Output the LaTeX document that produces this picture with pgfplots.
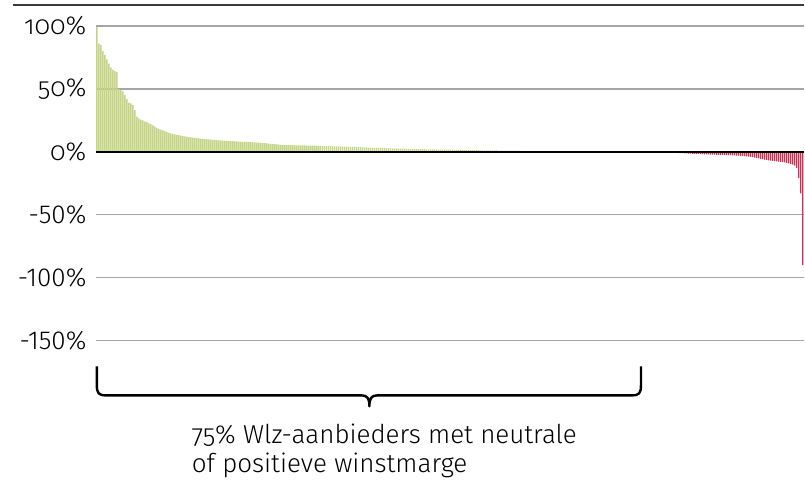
\documentclass[border=0pt]{standalone}
\usepackage{pgfplots}
\usepackage{pgfplotstable}
\usepackage{fontspec}
\pgfplotsset{compat=1.18}
\setmainfont{Fira Sans}[UprightFont=* Light, Numbers=OldStyle]
\newfontfamily\lin{Fira Sans}[UprightFont=* Light, Numbers=Lining]
\definecolor{posbar}{HTML}{C4D484}
\definecolor{negbar}{HTML}{D62E50}
\definecolor{gridgray}{HTML}{A6A6A6}
\definecolor{topline}{HTML}{3A3A3A}

% winstmarge per aanbieder (%), gesorteerd
\pgfplotstableread[row sep=\\]{
y\\
99\\ 86\\ 85\\ 80\\ 77\\ 73.5\\ 70\\ 67\\ 65\\ 64\\
63.5\\ 50\\ 49\\ 48\\ 45\\ 42\\ 39\\ 38.5\\ 37\\ 33\\
28\\ 26.5\\ 25.5\\ 25\\ 24\\ 23.5\\ 22.5\\ 22\\ 21\\ 20\\
19\\ 18\\ 17.5\\ 17\\ 16.3\\ 15.6\\ 15\\ 14.6\\ 14.2\\ 13.8\\
13.5\\ 13.2\\ 12.8\\ 12.5\\ 12.2\\ 12.0\\ 11.7\\ 11.5\\ 11.3\\ 11.1\\
10.9\\ 10.7\\ 10.5\\ 10.3\\
10.1\\ 9.9\\ 9.8\\ 9.6\\ 9.5\\ 9.4\\ 9.2\\
9.1\\ 9.0\\ 8.9\\ 8.8\\ 8.7\\ 8.6\\ 8.5\\ 8.4\\ 8.3\\ 8.2\\
8.1\\ 8.0\\ 7.9\\ 7.8\\ 7.8\\ 7.7\\ 7.6\\ 7.5\\ 7.4\\ 7.3\\ 7.2\\ 7.1\\
6.9\\ 6.8\\ 6.6\\ 6.5\\ 6.3\\ 6.2\\ 6.0\\ 5.9\\ 5.7\\ 5.5\\ 5.3\\
5.3\\ 5.3\\ 5.2\\ 5.2\\ 5.2\\ 5.1\\ 5.1\\ 5.1\\ 5.0\\ 5.0\\ 5.0\\ 4.9\\ 4.9\\ 4.9\\ 4.8\\ 4.8\\ 4.8\\
4.7\\ 4.7\\ 4.6\\ 4.6\\ 4.5\\ 4.5\\ 4.4\\ 4.4\\ 4.3\\ 4.3\\ 4.2\\ 4.2\\ 4.1\\ 4.1\\ 4.0\\
4.0\\ 3.9\\ 3.9\\ 3.8\\ 3.7\\ 3.7\\ 3.6\\ 3.5\\ 3.5\\ 3.4\\ 3.3\\ 3.3\\ 3.2\\ 3.1\\ 3.1\\ 3.0\\ 3.0\\ 2.9\\
2.9\\ 2.8\\ 2.8\\ 2.7\\ 2.7\\ 2.6\\ 2.6\\ 2.5\\ 2.5\\ 2.4\\ 2.4\\ 2.3\\ 2.3\\ 2.2\\ 2.2\\ 2.1\\ 2.1\\
2.1\\ 2.0\\ 2.0\\ 2.0\\ 1.9\\ 1.9\\ 1.9\\ 1.8\\ 1.8\\ 1.8\\ 1.7\\ 1.7\\ 1.7\\ 1.7\\ 1.6\\ 1.6\\ 1.6\\
1.6\\ 1.5\\ 1.5\\ 1.5\\ 1.4\\ 1.4\\ 1.4\\ 1.3\\ 1.3\\ 1.3\\ 1.2\\ 1.2\\ 1.2\\ 1.2\\ 1.1\\ 1.1\\
1.1\\ 1.1\\ 1.0\\ 1.0\\ 1.0\\ 1.0\\ 1.0\\ 0.9\\ 0.9\\ 0.9\\ 0.9\\ 0.9\\ 0.9\\ 0.8\\ 0.8\\ 0.8\\ 0.8\\
0.8\\ 0.7\\ 0.7\\ 0.7\\ 0.7\\ 0.6\\ 0.6\\ 0.6\\ 0.6\\ 0.5\\ 0.5\\ 0.5\\
0.5\\ 0.5\\ 0.4\\ 0.4\\ 0.4\\ 0.4\\ 0.4\\ 0.3\\ 0.3\\ 0.3\\ 0.3\\ 0.3\\
}\pos

% 40 neutrale aanbieders (0%) op posities 235-274, daarna negatief
\pgfplotstableread[row sep=\\]{
y\\
-0.2\\ -0.2\\ -0.3\\ -0.3\\ -0.3\\ -0.4\\ -0.4\\ -0.5\\ -0.5\\ -0.6\\ -0.6\\
-0.7\\ -0.7\\ -0.8\\ -0.8\\ -0.9\\ -1.0\\ -1.0\\ -1.1\\ -1.2\\ -1.3\\ -1.4\\ -1.5\\
-1.6\\ -1.6\\ -1.7\\ -1.7\\ -1.8\\ -1.9\\ -2.0\\ -2.0\\ -2.1\\ -2.2\\ -2.2\\ -2.3\\ -2.4\\
-2.4\\ -2.5\\ -2.5\\ -2.6\\ -2.6\\ -2.7\\ -2.7\\ -2.8\\ -2.9\\ -3.0\\
-3.1\\ -3.2\\ -3.3\\ -3.5\\ -3.6\\ -3.8\\ -4.0\\ -4.3\\ -4.6\\ -5.0\\
-5.3\\ -5.6\\ -5.9\\ -6.2\\ -6.5\\ -6.8\\ -7.0\\ -7.2\\ -7.4\\ -7.6\\
-7.8\\ -8.0\\ -8.2\\ -8.5\\ -8.8\\ -9.2\\ -9.6\\ -10.2\\ -11.0\\
-13\\ -21\\ -33\\ -90\\
}\neg

\begin{document}
\begin{tikzpicture}[x=1pt,y=1pt]
\begin{axis}[
    at={(0,0)}, anchor=south west,
    scale only axis,
    width=709pt, height=336pt,
    xmin=-0.5, xmax=353.5,
    ymin=-150, ymax=116.67,
    axis line style={draw=none},
    xtick=\empty,
    ytick={-150,-100,-50,0,50,100},
    yticklabels={{\lin -150\%},{\lin -100\%},{\lin -50\%},0\%,50\%,100\%},
    yticklabel style={font=\fontsize{26}{30}\selectfont, anchor=east, xshift=-6pt},
    major tick length=0pt,
    ymajorgrids,
    grid style={gridgray, line width=1.3pt},
    ybar, bar shift=0pt, bar width=0.7,
    clip=false,
]
\addplot[fill=posbar, draw=none] table[x expr=\coordindex, y=y] {\pos};
\addplot[fill=negbar, draw=none] table[x expr=\coordindex+275, y=y] {\neg};
\draw[black, line width=2.2pt] (axis cs:-0.5,0) -- (axis cs:353.5,0);
\end{axis}
\begin{scope}[shift={(-96pt,341pt)}, yscale=-1]
  \draw[topline, line width=2.6pt] (13,5) -- (805,5);
  \draw[black, line width=2.4pt, line join=round]
    (97,367) -- (97,386) .. controls (97,394) and (99,396) .. (106,396)
    -- (362,396) .. controls (368,396) and (370,399) .. (370,407)
    .. controls (370,399) and (372,396) .. (378,396)
    -- (633,396) .. controls (640,396) and (642,394) .. (642,386) -- (642,367);
  \node[anchor=base west, inner sep=0pt, font=\fontsize{26}{30}\selectfont] at (192,444) {75\% Wlz-aanbieders met neutrale};
  \node[anchor=base west, inner sep=0pt, font=\fontsize{26}{30}\selectfont] at (192,473) {of positieve winstmarge};
  \useasboundingbox (0,0) rectangle (805,484);
\end{scope}
\end{tikzpicture}
\end{document}
